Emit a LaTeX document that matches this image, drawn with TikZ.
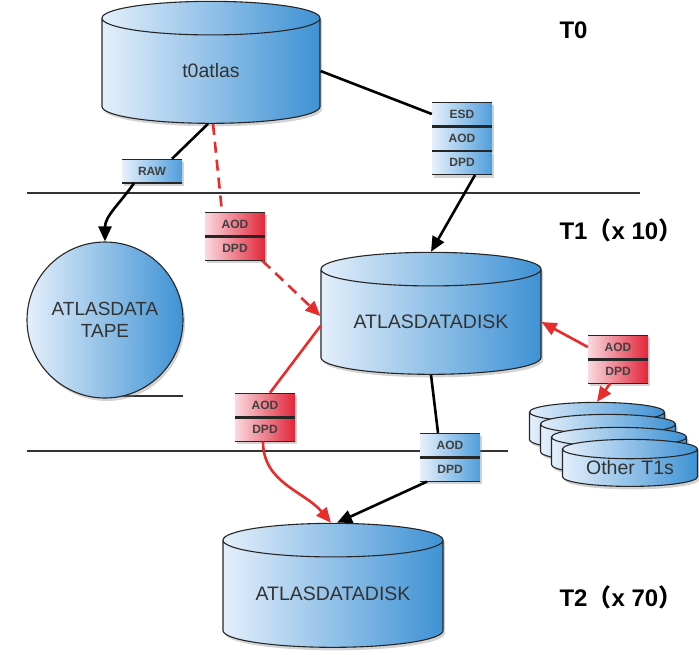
\documentclass[tikz,border=0pt]{standalone}
\usepackage{fontspec}
\setmainfont{Liberation Sans}
\newfontfamily\cjk{Noto Sans CJK SC}
\usetikzlibrary{shapes.geometric,shadows,arrows.meta,positioning}

\definecolor{diskl}{RGB}{228,239,251}
\definecolor{diskr}{RGB}{62,146,212}
\definecolor{celll}{RGB}{232,241,251}
\definecolor{cellr}{RGB}{78,158,220}
\definecolor{redl}{RGB}{250,218,224}
\definecolor{redr}{RGB}{226,38,58}
\definecolor{flowred}{RGB}{232,44,44}

\tikzset{
  dropsh/.style={drop shadow={opacity=0.35,shadow xshift=2pt,shadow yshift=-3pt}},
  disk/.style={cylinder,shape border rotate=90,aspect=0.21,draw=black!85,line width=1.1pt,
    left color=diskl,right color=diskr,inner sep=0pt,dropsh,align=center,
    text width=160pt,font=\fontsize{19.5}{22}\selectfont,text=black!80},
  smalldisk/.style={disk,text width=92pt,minimum width=135pt,minimum height=47pt},
  tapedisk/.style={circle,draw=black!85,line width=1.1pt,left color=diskl,right color=diskr,
    minimum size=156pt,inner sep=0pt,align=center,dropsh,
    font=\fontsize{19}{22}\selectfont,text=black!80},
  cell/.style={rectangle,minimum width=60pt,minimum height=24pt,inner sep=0pt,dropsh,
    font=\fontsize{12}{12}\selectfont\bfseries,text=black!75,
    path picture={
      \draw[line width=2.4pt,black!85] (path picture bounding box.north west) -- (path picture bounding box.north east);
      \draw[line width=1.6pt,black!85] (path picture bounding box.south west) -- (path picture bounding box.south east);}},
  bluecell/.style={cell,left color=celll,right color=cellr},
  redcell/.style={cell,left color=redl,right color=redr},
  flow/.style={line width=2.6pt,black},
  redflow/.style={line width=2.6pt,flowred},
  dashpat/.style={dash pattern=on 11pt off 7pt},
  arr/.style={-{Triangle[length=15pt,width=13pt]}},
  tier/.style={anchor=west,font=\fontsize{24}{26}\selectfont\bfseries},
  sepline/.style={line width=1.4pt,black!80}
}

\begin{document}
\begin{tikzpicture}[x=1pt,y=-1pt]
  \useasboundingbox (0,0) rectangle (699,654);

  % tier borders
  \draw[sepline] (27,193) -- (640,193);
  \draw[sepline] (118,396) -- (183,396);
  \draw[sepline] (27,451) -- (508,451);

  % storage
  \node[disk,minimum width=218pt,minimum height=122pt] (t0) at (211,71) {t0atlas};
  \node[disk,minimum width=220pt,minimum height=122pt] (t1) at (431,322) {ATLASDATADISK};
  \node[disk,minimum width=220pt,minimum height=124pt] (t2) at (333,594) {ATLASDATADISK};
  \node[tapedisk] (tape) at (105,320) {ATLASDATA\\TAPE};

  \node[smalldisk] (oth1) at (597,431) {};
  \node[smalldisk] (oth2) at (608,443) {};
  \node[smalldisk] (oth3) at (619,456) {};
  \node[smalldisk] (oth4) at (630,468) {Other T1s};

  % data types
  \node[bluecell] (raw) at (152,171) {RAW};
  \node[bluecell] (esd) at (462,114) {ESD};
  \node[bluecell,below=0pt of esd] (esdaod) {AOD};
  \node[bluecell,below=0pt of esdaod] (esddpd) {DPD};
  \node[redcell] (aodA) at (235,224) {AOD};
  \node[redcell,below=0pt of aodA] (dpdA) {DPD};
  \node[redcell] (aodR) at (618,347) {AOD};
  \node[redcell,below=0pt of aodR] (dpdR) {DPD};
  \node[redcell] (aodC) at (265,405) {AOD};
  \node[redcell,below=0pt of aodC] (dpdC) {DPD};
  \node[bluecell] (aodB) at (450,445) {AOD};
  \node[bluecell,below=0pt of aodB] (dpdB) {DPD};

  \node[tier] (tzero) at (556,30) {T0};
  \node[tier] (tone) at (556,230) {T1{\cjk （}x 10{\cjk ）}};
  \node[tier] (ttwo) at (556,597) {T2{\cjk （}x 70{\cjk ）}};

  % flows
  \draw[flow] ([xshift=-3pt]t0.south) -- ([xshift=20pt]raw.north);
  \draw[flow,arr] ([xshift=-18pt]raw.south) to[out=-125,in=90] (tape.north);
  \draw[flow] (t0.east) -- (esd.west);
  \draw[flow,arr] ([xshift=13pt]esddpd.south) -- (t1.north);
  \draw[flow] (t1.south) -- ([xshift=-12pt]aodB.north);
  \draw[flow,arr] ([xshift=-23pt]dpdB.south) -- ([xshift=4pt]t2.north);

  \draw[redflow,dashpat] ([xshift=2pt]t0.south) -- ([xshift=-13pt]aodA.north);
  \draw[redflow,dashpat,arr] ([xshift=-3pt]dpdA.south east) -- ([yshift=6pt]t1.west);
  \draw[redflow] ([yshift=-4pt]t1.west) -- ([xshift=5pt]aodC.north);
  \draw[redflow,arr] ([xshift=-2pt]dpdC.south) to[out=-90,in=130] ([xshift=-2pt]t2.north);
  \draw[redflow,arr] (aodR.west) -- (t1.east);
  \draw[redflow,arr] ([xshift=-8pt]dpdR.south) -- (oth1.north);
\end{tikzpicture}
\end{document}
